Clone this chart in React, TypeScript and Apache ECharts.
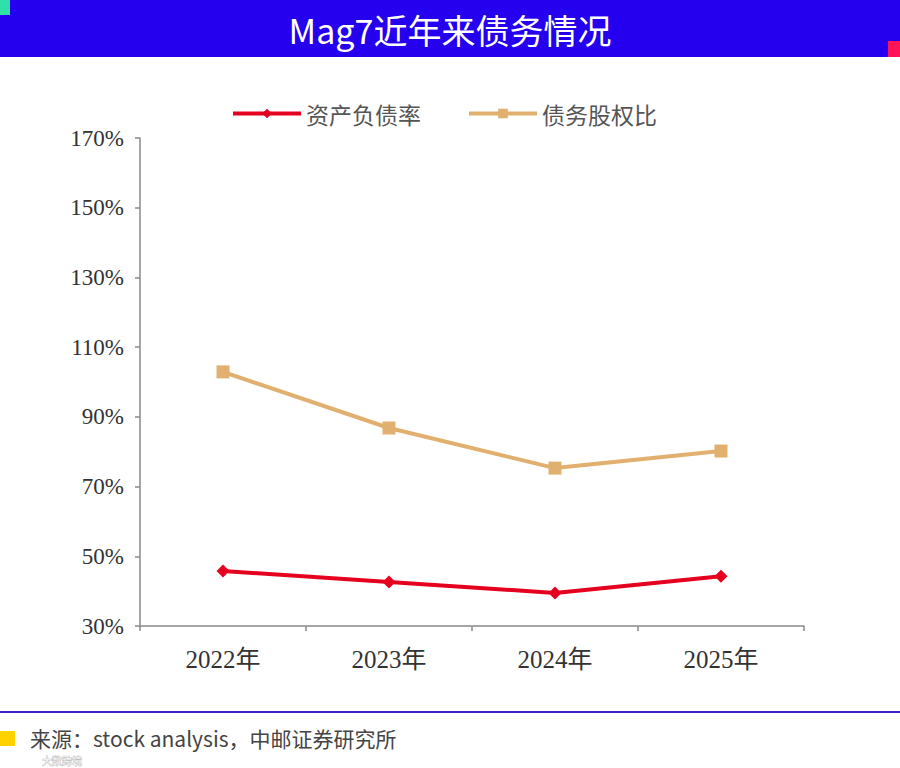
import React, { useEffect, useRef } from "react";
import * as echarts from "echarts";

const categories = ["2022年", "2023年", "2024年", "2025年"];
const debtAssetRatio = [45.8, 42.6, 39.5, 44.3];
const debtEquityRatio = [102.9, 86.8, 75.3, 80.2];
const seriesNames = ["资产负债率", "债务股权比"];
const titleText = "Mag7近年来债务情况";
const sourceText = "来源：stock analysis，中邮证券研究所";

export default function App() {
  const ref = useRef<HTMLDivElement>(null);
  useEffect(() => {
    document.body.style.margin = "0";
    const chart = echarts.init(ref.current!, null, { renderer: "svg" });
    const serif = "'Liberation Serif', 'Times New Roman', 'Noto Sans CJK SC', serif";
    const cjk = "'Noto Sans CJK SC', 'Noto Sans', sans-serif";
    chart.setOption({
      animation: false,
      backgroundColor: "#ffffff",
      grid: { left: 140, right: 96, top: 138, bottom: 142 },
      legend: {
        top: 97,
        left: 226,
        itemWidth: 68,
        itemHeight: 12,
        itemGap: 46,
        lineStyle: { width: 4 },
        textStyle: { fontSize: 23, color: "#555", fontFamily: cjk },
        data: seriesNames,
      },
      xAxis: {
        type: "category",
        data: categories,
        boundaryGap: true,
        axisLine: { lineStyle: { color: "#8a8a8a", width: 1.5 } },
        axisTick: { show: true, length: 5, lineStyle: { color: "#8a8a8a", width: 1.5 } },
        axisLabel: { fontSize: 25, color: "#333", fontFamily: serif, margin: 21 },
        splitLine: { show: false },
      },
      yAxis: {
        type: "value",
        min: 30,
        max: 170,
        interval: 20,
        axisLine: { show: true, lineStyle: { color: "#8a8a8a", width: 1.5 } },
        axisTick: { show: true, length: 5, lineStyle: { color: "#8a8a8a", width: 1.5 } },
        axisLabel: { fontSize: 23, color: "#333", fontFamily: serif, margin: 16, formatter: "{value}%" },
        splitLine: { show: false },
      },
      series: [
        {
          name: seriesNames[0],
          type: "line",
          data: debtAssetRatio,
          symbol: "diamond",
          symbolSize: 13,
          lineStyle: { color: "#e60020", width: 4 },
          itemStyle: { color: "#e60020" },
        },
        {
          name: seriesNames[1],
          type: "line",
          data: debtEquityRatio,
          symbol: "rect",
          symbolSize: 13,
          lineStyle: { color: "#e2b06e", width: 4 },
          itemStyle: { color: "#e2b06e" },
        },
      ],
      graphic: [
        { type: "rect", left: 0, top: 0, shape: { width: 900, height: 57 }, style: { fill: "#2400ee" } },
        { type: "rect", left: 0, top: 0, shape: { width: 10, height: 15 }, style: { fill: "#30e0a8" } },
        { type: "rect", left: 888, top: 41, shape: { width: 12, height: 16 }, style: { fill: "#ff1458" } },
        {
          type: "text",
          x: 450,
          y: 29,
          style: {
            text: titleText,
            fill: "#ffffff",
            fontSize: 34,
            fontFamily: cjk,
            align: "center",
            verticalAlign: "middle",
          },
        },
        { type: "rect", left: 0, top: 711, shape: { width: 900, height: 2 }, style: { fill: "#3a22c8" } },
        { type: "rect", left: 0, top: 731, shape: { width: 15, height: 15 }, style: { fill: "#ffd200" } },
        {
          type: "text",
          x: 30,
          y: 738,
          style: {
            text: sourceText,
            fill: "#444",
            fontSize: 21,
            fontFamily: cjk,
            align: "left",
            verticalAlign: "middle",
          },
        },
        {
          type: "text",
          x: 42,
          y: 760,
          style: {
            text: "大数跨境",
            fill: "rgba(255,255,255,0.85)",
            stroke: "rgba(150,150,150,0.6)",
            lineWidth: 1,
            fontSize: 10,
            fontFamily: cjk,
            align: "left",
            verticalAlign: "middle",
          },
        },
      ],
    });
    return () => chart.dispose();
  }, []);
  return <div ref={ref} style={{ width: 900, height: 768 }} />;
}
